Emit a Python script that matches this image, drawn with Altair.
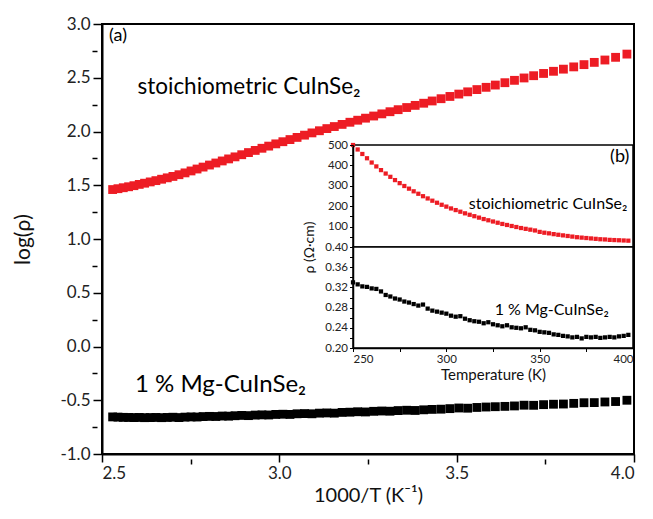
import altair as alt
import pandas as pd

# ---------------- main panel data: 1000/T vs log(rho) ----------------
inv_T = [2.530, 2.545, 2.560, 2.575, 2.590, 2.605, 2.620, 2.636, 2.652, 2.668,
         2.684, 2.700, 2.717, 2.734, 2.751, 2.768, 2.785, 2.803, 2.821, 2.839,
         2.857, 2.875, 2.894, 2.913, 2.932, 2.951, 2.970, 2.990, 3.010, 3.030,
         3.050, 3.071, 3.092, 3.113, 3.134, 3.155, 3.177, 3.199, 3.221, 3.243,
         3.266, 3.289, 3.312, 3.335, 3.359, 3.383, 3.407, 3.431, 3.456, 3.481,
         3.506, 3.531, 3.557, 3.583, 3.609, 3.636, 3.663, 3.690, 3.717, 3.745,
         3.773, 3.801, 3.830, 3.859, 3.888, 3.918, 3.948, 3.980]
log_stoich = [1.460, 1.468, 1.477, 1.486, 1.496, 1.508, 1.519, 1.531, 1.543, 1.556,
              1.569, 1.582, 1.598, 1.615, 1.633, 1.651, 1.669, 1.688, 1.707, 1.726,
              1.745, 1.764, 1.784, 1.804, 1.824, 1.844, 1.864, 1.885, 1.905, 1.925,
              1.945, 1.966, 1.987, 2.007, 2.027, 2.046, 2.066, 2.086, 2.105, 2.124,
              2.144, 2.164, 2.184, 2.203, 2.223, 2.243, 2.263, 2.284, 2.305, 2.326,
              2.348, 2.369, 2.390, 2.411, 2.432, 2.454, 2.476, 2.498, 2.519, 2.540,
              2.560, 2.580, 2.601, 2.622, 2.643, 2.665, 2.690, 2.720]
log_mg = [-0.655, -0.657, -0.659, -0.660, -0.661, -0.660, -0.662, -0.661, -0.660, -0.662,
          -0.660, -0.658, -0.661, -0.657, -0.655, -0.656, -0.652, -0.650, -0.651, -0.647,
          -0.648, -0.644, -0.641, -0.643, -0.638, -0.636, -0.637, -0.632, -0.630, -0.632,
          -0.626, -0.624, -0.626, -0.620, -0.618, -0.620, -0.613, -0.611, -0.607, -0.609,
          -0.603, -0.600, -0.602, -0.596, -0.593, -0.595, -0.589, -0.585, -0.583, -0.578,
          -0.572, -0.574, -0.567, -0.563, -0.560, -0.557, -0.553, -0.546, -0.547, -0.541,
          -0.537, -0.535, -0.529, -0.523, -0.522, -0.516, -0.512, -0.500]

# ---------------- inset data: T vs rho ----------------
temp_K = [250, 252.5, 255, 257.5, 260, 262.5, 265, 267.5, 270, 272.5,
          275, 277.5, 280, 282.5, 285, 287.5, 290, 292.5, 295, 297.5,
          300, 302.5, 305, 307.5, 310, 312.5, 315, 317.5, 320, 322.5,
          325, 327.5, 330, 332.5, 335, 337.5, 340, 342.5, 345, 347.5,
          350, 352.5, 355, 357.5, 360, 362.5, 365, 367.5, 370, 372.5,
          375, 377.5, 380, 382.5, 385, 387.5, 390, 392.5, 395, 397.5]
rho_stoich = [500, 478, 456, 435, 414, 395, 377, 360, 344, 328,
              313, 299, 286, 273, 261, 249, 238, 227, 217, 207,
              198, 189, 181, 173, 165, 158, 151, 144, 137, 131,
              125, 119, 113, 108, 103, 98, 93, 89, 85, 81,
              74, 70, 67, 63, 60, 57, 54, 51, 48, 46,
              44, 42, 40, 38, 37, 35, 34, 33, 32, 31]
rho_mg = [0.330, 0.326, 0.322, 0.321, 0.318, 0.317, 0.312, 0.305, 0.302, 0.298,
          0.296, 0.292, 0.290, 0.287, 0.284, 0.286, 0.278, 0.274, 0.272, 0.270,
          0.268, 0.264, 0.262, 0.263, 0.258, 0.255, 0.253, 0.252, 0.249, 0.251,
          0.247, 0.245, 0.243, 0.245, 0.241, 0.240, 0.239, 0.241, 0.236, 0.235,
          0.232, 0.231, 0.230, 0.227, 0.226, 0.224, 0.223, 0.221, 0.222, 0.219,
          0.222, 0.221, 0.222, 0.220, 0.221, 0.222, 0.221, 0.223, 0.224, 0.226]

# ---------------- ticks ----------------
main_x_major = [2.5, 3.0, 3.5, 4.0]
main_x_minor = [2.75, 3.25, 3.75]
main_y_major = [-1.0, -0.5, 0.0, 0.5, 1.0, 1.5, 2.0, 2.5, 3.0]
main_y_minor = [-0.75, -0.25, 0.25, 0.75, 1.25, 1.75, 2.25, 2.75]
inset_x_ticks = [250, 275, 300, 325, 350, 375, 400]
inset_top_ticks = [50, 100, 150, 200, 250, 300, 350, 400, 450, 500]
inset_bot_ticks = [0.20, 0.22, 0.24, 0.26, 0.28, 0.30, 0.32, 0.34, 0.36, 0.38, 0.40]

# ---------------- annotations ----------------
main_labels = pd.DataFrame({
    "x": [2.52, 2.60, 2.593],
    "y": [2.84, 2.35, -0.42],
    "label": ["(a)", "stoichiometric CuInSe\u2082", "1 % Mg-CuInSe\u2082"],
    "size": [18, 22.5, 24],
})
inset_top_labels = pd.DataFrame({
    "x": [398, 397],
    "y": [415, 185],
    "label": ["(b)", "stoichiometric CuInSe\u2082"],
    "size": [18, 16],
})
inset_bot_labels = pd.DataFrame({
    "x": [387],
    "y": [0.265],
    "label": ["1 % Mg-CuInSe\u2082"],
    "size": [16],
})

FONT = "Lato"
RED = "#ed1c24"
INK = "black"
W, H = 532, 430

main_df = pd.DataFrame({"x": inv_T, "stoich": log_stoich, "mg": log_mg})
inset_df = pd.DataFrame({"T": temp_K, "stoich": rho_stoich, "mg": rho_mg})
top_box = pd.DataFrame({"x0": [250], "x1": [400], "y0": [0], "y1": [500]})
bot_box = pd.DataFrame({"x0": [250], "x1": [400], "y0": [0.2], "y1": [0.4]})
anchor = pd.DataFrame({"x": [3.0], "y": [1.0]})

common = dict(grid=False, domainColor=INK, tickColor=INK, labelColor="#222",
              titleColor="#111", labelFont=FONT, titleFont=FONT, titleFontWeight="normal")
x_axis = alt.Axis(values=main_x_major, title="1000/T (K\u207b\u00b9)", format=".1f",
                  tickSize=8, tickWidth=1.5, domainWidth=2, labelPadding=3,
                  labelFontSize=17, titleFontSize=20, titlePadding=4, **common)
y_axis = alt.Axis(values=main_y_major, title="log(\u03c1)",
                  labelExpr="replace(format(datum.value, '.1f'), '\u2212', '-')",
                  tickSize=9, tickWidth=1.5, domainWidth=2, labelPadding=3,
                  labelFontSize=17, titleFontSize=21, titlePadding=26, **common)

xs = alt.Scale(domain=[2.5, 4.0], nice=False, zero=False)
ys = alt.Scale(domain=[-1.0, 3.0], nice=False, zero=False)

red_pts = alt.Chart(main_df).mark_square(size=78, color=RED, opacity=1).encode(
    x=alt.X("x:Q", scale=xs, axis=x_axis), y=alt.Y("stoich:Q", scale=ys, axis=y_axis))
blk_pts = alt.Chart(main_df).mark_square(size=78, color="black", opacity=1).encode(
    x=alt.X("x:Q", scale=xs, axis=x_axis), y=alt.Y("mg:Q", scale=ys, axis=y_axis))
main_txt = alt.Chart(main_labels).mark_text(align="left", baseline="alphabetic",
                                            font=FONT, color="black").encode(
    x=alt.X("x:Q", scale=xs, axis=x_axis), y=alt.Y("y:Q", scale=ys, axis=y_axis),
    text="label:N", size=alt.Size("size:Q", scale=None, legend=None))
main = alt.layer(red_pts, blk_pts, main_txt)

# minor ticks: a second, identical pair of scales with unlabeled axes
minor = alt.Chart(anchor).mark_point(opacity=0).encode(
    x=alt.X("x:Q", scale=xs, axis=alt.Axis(values=main_x_minor, orient="bottom", labels=False,
                                           domain=False, title=None, tickSize=5, tickWidth=1.5,
                                           offset=5, tickColor=INK, grid=False)),
    y=alt.Y("y:Q", scale=ys, axis=alt.Axis(values=main_y_minor, orient="left", labels=False,
                                           domain=False, title=None, tickSize=5, tickWidth=1.5,
                                           offset=5, tickColor=INK, grid=False)))

# inset scales in pixel ranges inside the main plot area
ixs = alt.Scale(domain=[250, 400], range=[251, 531], nice=False, zero=False)
itys = alt.Scale(domain=[0, 500], range=[223, 121], nice=False, zero=False)
ibys = alt.Scale(domain=[0.2, 0.4], range=[324, 223], nice=False, zero=False)

inset_common = dict(labelFontSize=11.5, labelPadding=2, tickWidth=1, domainWidth=1.5,
                    tickSize=3.5, zindex=2, **common)
top_y_axis = alt.Axis(values=inset_top_ticks, title=None, orient="left", offset=-251,
                      labelExpr="datum.value % 100 === 0 ? datum.value : ''",
                      **inset_common)
bot_y_axis = alt.Axis(values=inset_bot_ticks, title="\u03c1 (\u03a9\u00b7cm)", orient="left",
                      offset=-251,
                      labelExpr="abs(datum.value*25 - round(datum.value*25)) < 0.001 ? format(datum.value, '.2f') : ''",
                      titleFontSize=14, titleX=-44, titleY=223, titleAngle=-90,
                      titleAlign="center", titleBaseline="middle", **inset_common)
ix_axis = alt.Axis(values=inset_x_ticks, title="Temperature (K)", orient="bottom", offset=-106,
                   labelExpr="datum.value % 50 === 0 ? datum.value : ''",
                   titleFontSize=15, titlePadding=2, **inset_common)

top_rect = alt.Chart(top_box).mark_rect(fill="white", stroke="black", strokeWidth=1.5).encode(
    x=alt.X("x0:Q", scale=ixs, axis=None), x2="x1:Q",
    y=alt.Y("y0:Q", scale=itys, axis=top_y_axis), y2="y1:Q")
top_pts = alt.Chart(inset_df).mark_square(size=18, color=RED, opacity=1).encode(
    x=alt.X("T:Q", scale=ixs, axis=None), y=alt.Y("stoich:Q", scale=itys, axis=top_y_axis))
top_txt = alt.Chart(inset_top_labels).mark_text(align="right", baseline="alphabetic",
                                                font=FONT, color="black").encode(
    x=alt.X("x:Q", scale=ixs, axis=None), y=alt.Y("y:Q", scale=itys, axis=top_y_axis),
    text="label:N", size=alt.Size("size:Q", scale=None, legend=None))
inset_top = alt.layer(top_rect, top_pts, top_txt)

bot_rect = alt.Chart(bot_box).mark_rect(fill="white", stroke="black", strokeWidth=1.5).encode(
    x=alt.X("x0:Q", scale=ixs, axis=ix_axis), x2="x1:Q",
    y=alt.Y("y0:Q", scale=ibys, axis=bot_y_axis), y2="y1:Q")
bot_pts = alt.Chart(inset_df).mark_square(size=18, color="black", opacity=1).encode(
    x=alt.X("T:Q", scale=ixs, axis=ix_axis), y=alt.Y("mg:Q", scale=ibys, axis=bot_y_axis))
bot_txt = alt.Chart(inset_bot_labels).mark_text(align="right", baseline="alphabetic",
                                                font=FONT, color="black").encode(
    x=alt.X("x:Q", scale=ixs, axis=ix_axis), y=alt.Y("y:Q", scale=ibys, axis=bot_y_axis),
    text="label:N", size=alt.Size("size:Q", scale=None, legend=None))
inset_bot = alt.layer(bot_rect, bot_pts, bot_txt)

chart = alt.layer(main, minor, inset_top, inset_bot).resolve_scale(
    x="independent", y="independent").properties(
    width=W, height=H,
    background="white",
    autosize=alt.AutoSizeParams(type="none"),
    padding={"left": 94, "top": 16, "right": 11, "bottom": 57},
).configure_view(stroke="black", strokeWidth=2).configure_axis(
    grid=False, domainColor="black", tickColor="black",
    labelFont=FONT, titleFont=FONT, titleFontWeight="normal",
)

chart.save("out.html", embed_options={"renderer": "svg", "actions": False})
